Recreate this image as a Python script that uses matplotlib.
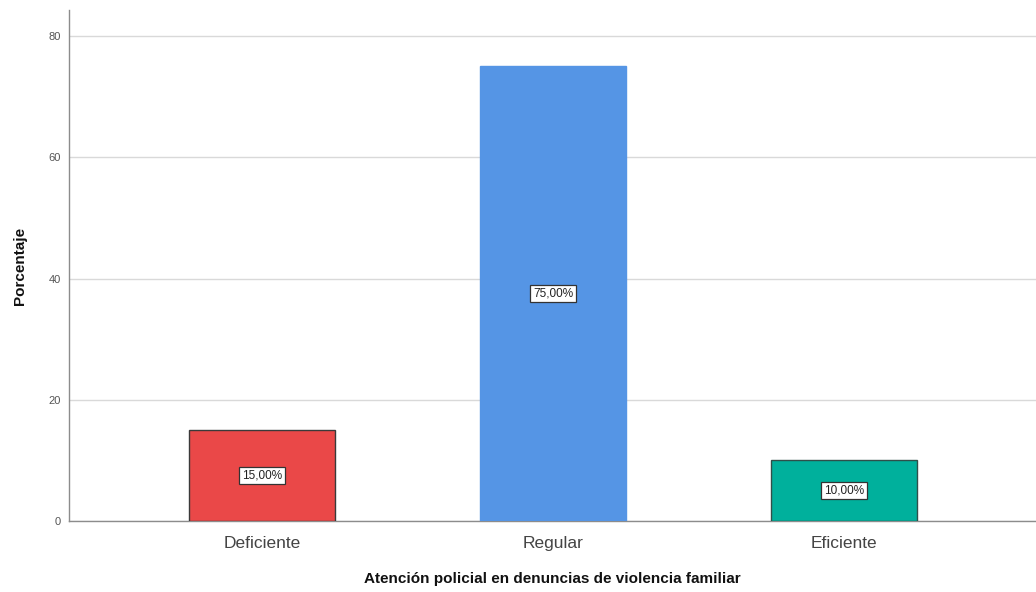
import matplotlib.pyplot as plt

plt.rcParams['font.family'] = ['Liberation Sans', 'DejaVu Sans']

categorias = ['Deficiente', 'Regular', 'Eficiente']
porcentajes = [15.0, 75.0, 10.0]
colores = ['#EA4848', '#5595E5', '#00B09C']
bordes = ['#3a3a3a', '#5595E5', '#2f4f4a']
etiquetas = ['15,00%', '75,00%', '10,00%']

fig = plt.figure(figsize=(10.36, 5.92), dpi=100)
ax = fig.add_axes([69 / 1036, 1 - 521 / 592, 1 - 69 / 1036, (521 - 10) / 592])

x = range(len(categorias))
ax.bar(x, porcentajes, width=0.5, color=colores, edgecolor=bordes,
       linewidth=1.0, zorder=3)

# etiqueta con el valor en el centro de cada barra
for xi, v, t in zip(x, porcentajes, etiquetas):
    ax.text(xi, v / 2, t, ha='center', va='center', fontsize=8.5, color='#222222',
            bbox=dict(boxstyle='square,pad=0.22', fc='white', ec='#333333', lw=0.9),
            zorder=4)

ax.set_xlim(-0.663, 2.66)
ax.set_ylim(0, 84.3)
ax.set_yticks([0, 20, 40, 60, 80])
ax.yaxis.grid(True, color='#d9d9d9', linewidth=1.0, zorder=0)
ax.set_axisbelow(True)

ax.set_xticks(list(x))
ax.set_xticklabels(categorias, fontsize=12.5, color='#444444')
ax.tick_params(axis='x', length=0, pad=11)
ax.tick_params(axis='y', length=0, labelsize=8, labelcolor='#555555', pad=6)

for s in ['top', 'right']:
    ax.spines[s].set_visible(False)
for s in ['left', 'bottom']:
    ax.spines[s].set_color('#8c8c8c')
    ax.spines[s].set_linewidth(1.0)

ax.set_xlabel('Atención policial en denuncias de violencia familiar', fontsize=11,
              fontweight='bold', color='#111111', labelpad=15)
ax.set_ylabel('Porcentaje', fontsize=11, fontweight='bold', color='#111111', labelpad=15)

fig.savefig('out.png', dpi=100)
